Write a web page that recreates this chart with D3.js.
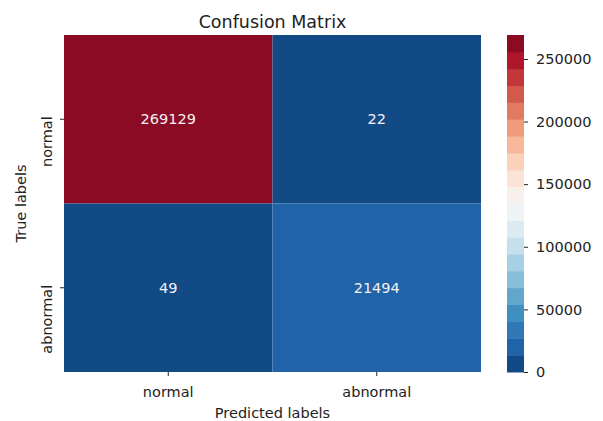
<!DOCTYPE html>
<html>
<head>
<meta charset="utf-8">
<script src="https://cdn.jsdelivr.net/npm/d3@7"></script>
<style>
  body { margin: 0; background: #fff; }
  svg { display: block; font-family: "DejaVu Sans", sans-serif; }
  .tick line { stroke: #222; }
  .tick text { fill: #222; }
</style>
</head>
<body>
<div id="chart"></div>
<script>
// Confusion matrix values (rows = true labels, columns = predicted labels)
var predictedLabels = ['normal', 'abnormal'];
var trueLabels = ['normal', 'abnormal'];
var counts = [
    [269129, 22],
    [49, 21494]
];
var colorbarTicks = [0, 50000, 100000, 150000, 200000, 250000];
var nColors = 20;

// matplotlib RdBu anchor colours, reversed below for RdBu_r
var rdbuAnchors = ['#67001f', '#b2182b', '#d6604d', '#f4a582', '#fddbc7', '#f7f7f7',
                   '#d1e5f0', '#92c5de', '#4393c3', '#2166ac', '#053061'];

function renderMatrix() {
    var width = 603, height = 421;
    var heat = { left: 64, right: 481, top: 35, bottom: 372 };
    var cbar = { left: 507, right: 524 };
    var tickSize = 4;

    var rdbu = d3.piecewise(d3.interpolateRgb, rdbuAnchors);
    var rdbuR = function(t) { return rdbu(1 - t); };
    // seaborn style palette: sample interior points of the colormap
    var palette = d3.range(1, nColors + 1).map(function(i) {
        return rdbuR(i / (nColors + 1));
    });

    var cells = [];
    trueLabels.forEach(function(t, r) {
        predictedLabels.forEach(function(p, c) {
            cells.push({ row: t, col: p, value: counts[r][c] });
        });
    });
    var vmax = d3.max(cells, function(d) { return d.value; });
    var vmin = 0;

    var x = d3.scaleBand().domain(predictedLabels).range([heat.left, heat.right]);
    var y = d3.scaleBand().domain(trueLabels).range([heat.top, heat.bottom]);
    var color = d3.scaleQuantize().domain([vmin, vmax]).range(palette);

    var svg = d3.select('#chart').append('svg')
        .attr('width', width)
        .attr('height', height);

    // Heatmap cells
    svg.append('g').selectAll('rect')
        .data(cells)
        .enter()
        .append('rect')
        .attr('x', function(d) { return x(d.col); })
        .attr('y', function(d) { return y(d.row); })
        .attr('width', x.bandwidth())
        .attr('height', y.bandwidth())
        .attr('fill', function(d) { return color(d.value); });

    // Annotations
    svg.append('g').selectAll('text')
        .data(cells)
        .enter()
        .append('text')
        .attr('x', function(d) { return x(d.col) + x.bandwidth() / 2; })
        .attr('y', function(d) { return y(d.row) + y.bandwidth() / 2; })
        .attr('text-anchor', 'middle')
        .attr('dominant-baseline', 'central')
        .attr('font-size', 14.5)
        .attr('fill', '#f6f0f2')
        .text(function(d) { return d.value; });

    // X axis
    var xAxis = svg.append('g')
        .attr('transform', 'translate(0,' + heat.bottom + ')')
        .call(d3.axisBottom(x).tickSize(tickSize).tickPadding(10.5));
    xAxis.select('.domain').remove();
    xAxis.selectAll('text').attr('font-size', 14.5).attr('font-family', 'DejaVu Sans');

    // Y axis, labels rotated; text ends just above each tick
    var yAxis = svg.append('g')
        .attr('transform', 'translate(' + heat.left + ',0)')
        .call(d3.axisLeft(y).tickSize(tickSize).tickPadding(5));
    yAxis.select('.domain').remove();
    yAxis.selectAll('text')
        .attr('font-size', 14.5)
        .attr('font-family', 'DejaVu Sans')
        .attr('x', null)
        .attr('dy', null)
        .attr('text-anchor', 'end')
        .attr('transform', 'translate(-12,-3) rotate(-90)');

    // Title and axis titles
    svg.append('text')
        .attr('x', (heat.left + heat.right) / 2)
        .attr('y', 27.5)
        .attr('text-anchor', 'middle')
        .attr('font-size', 17.5)
        .attr('fill', '#222')
        .text('Confusion Matrix');

    svg.append('text')
        .attr('x', (heat.left + heat.right) / 2)
        .attr('y', 418)
        .attr('text-anchor', 'middle')
        .attr('font-size', 14.5)
        .attr('fill', '#222')
        .text('Predicted labels');

    svg.append('text')
        .attr('transform', 'translate(26,' + (heat.top + heat.bottom) / 2 + ') rotate(-90)')
        .attr('text-anchor', 'middle')
        .attr('font-size', 14.5)
        .attr('fill', '#222')
        .text('True labels');

    // Colorbar (discrete bands)
    var cScale = d3.scaleLinear().domain([vmin, vmax]).range([heat.bottom, heat.top]);
    var bands = palette.map(function(c, i) {
        return { lo: vmin + (vmax - vmin) * i / nColors, hi: vmin + (vmax - vmin) * (i + 1) / nColors, color: c };
    });
    svg.append('g').selectAll('rect')
        .data(bands)
        .enter()
        .append('rect')
        .attr('x', cbar.left)
        .attr('y', function(d) { return cScale(d.hi); })
        .attr('width', cbar.right - cbar.left)
        .attr('height', function(d) { return cScale(d.lo) - cScale(d.hi) + 0.5; })
        .attr('fill', function(d) { return d.color; });

    var cAxis = svg.append('g')
        .attr('transform', 'translate(' + cbar.right + ',0)')
        .call(d3.axisRight(cScale).tickValues(colorbarTicks).tickFormat(d3.format('d')).tickSize(tickSize).tickPadding(8));
    cAxis.select('.domain').remove();
    cAxis.selectAll('text').attr('font-size', 14.5).attr('font-family', 'DejaVu Sans');
}

renderMatrix();
</script>
</body>
</html>
